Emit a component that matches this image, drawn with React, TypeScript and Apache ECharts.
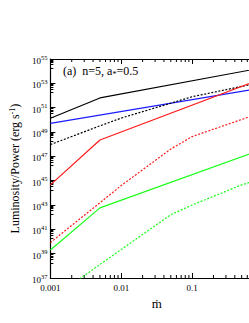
import React, { useEffect, useRef } from 'react';
import * as echarts from 'echarts';

// x positions (accretion rate) for each curve
const xBlackSolid = [0.001, 0.005, 1];
const yBlackSolid = [1.35e50, 6.3e51, 1.95e54];

const xBlackDotted = [0.001, 0.005, 0.01, 0.1, 0.5, 1];
const yBlackDotted = [9.3e47, 3.2e49, 1.4e50, 7.9e51, 5.6e52, 1.26e53];

const xBlue = [0.001, 1];
const yBlue = [5.2e49, 4.3e52];

const xRedSolid = [0.001, 0.005, 1];
const yRedSolid = [4.5e44, 2.2e48, 2.6e53];

const xRedDotted = [0.001, 0.01, 0.05, 0.1, 0.5, 1];
const yRedDotted = [8.1e39, 4.0e44, 4.0e47, 4.2e48, 1.07e50, 4.4e50];

const xGreenSolid = [0.001, 0.005, 1];
const yGreenSolid = [2.0e39, 5.8e42, 3.9e47];

const xGreenDotted = [0.001, 0.005, 0.01, 0.05, 0.1, 0.5, 1];
const yGreenDotted = [1.6e35, 1.3e38, 2.2e39, 1.6e42, 1e43, 4.5e44, 1.6e45];

const xMinorMultipliers = [2, 3, 4, 5, 6, 7, 8, 9];
const xDecades = [0.001, 0.01, 0.1];

const FONT = 'Liberation Serif';

function pairs(xs: number[], ys: number[]) {
  return xs.map((x, i) => [x, ys[i]]);
}

export default function App() {
  const ref = useRef<HTMLDivElement>(null);
  useEffect(() => {
    const chart = echarts.init(ref.current!, null, { renderer: 'svg' });
    const mkLine = (name: string, xs: number[], ys: number[], color: string, dotted: boolean) => ({
      name,
      type: 'line',
      data: pairs(xs, ys),
      symbol: 'none',
      clip: true,
      lineStyle: { color, width: 1.2, type: dotted ? [2, 1.6] : 'solid' },
      xAxisIndex: 0,
      yAxisIndex: 0,
    });
    const tickStyle = { color: '#000', width: 1 };
    const option: any = {
      animation: false,
      backgroundColor: '#fff',
      grid: { left: 44, top: 59, width: 219, height: 219, containLabel: false },
      xAxis: [
        {
          type: 'log',
          logBase: 10,
          min: 0.001,
          max: 1,
          position: 'bottom',
          name: 'ṁ',
          nameLocation: 'middle',
          nameGap: 13,
          nameTextStyle: { fontFamily: FONT, fontSize: 13, color: '#000' },
          axisLine: { show: true, lineStyle: { color: '#000', width: 1.2 } },
          axisTick: { show: true, inside: true, length: 5, lineStyle: tickStyle },
          axisLabel: {
            show: true,
            margin: 5,
            fontFamily: FONT,
            fontSize: 9,
            color: '#000',
            formatter: (v: number) => (v >= 0.999 ? '' : String(parseFloat(v.toPrecision(3)))),
          },
          splitLine: { show: false },
        },
        {
          type: 'log',
          logBase: 10,
          min: 0.001,
          max: 1,
          position: 'top',
          axisLine: { show: true, lineStyle: { color: '#000', width: 1.2 } },
          axisTick: { show: true, inside: true, length: 5, lineStyle: tickStyle },
          axisLabel: { show: false },
          splitLine: { show: false },
        },
      ],
      yAxis: [
        {
          type: 'log',
          logBase: 10,
          min: 1e37,
          max: 1e55,
          interval: 2,
          position: 'left',
          name: 'Luminosity/Power (erg s{sup|-1})',
          nameLocation: 'middle',
          nameRotate: 90,
          nameGap: 27,
          nameTextStyle: {
            fontFamily: FONT,
            fontSize: 12,
            color: '#000',
            rich: {
              sup: { fontFamily: FONT, fontSize: 8, color: '#000', padding: [0, 0, 6, 0] },
            },
          },
          axisLine: { show: true, lineStyle: { color: '#000', width: 1.2 } },
          axisTick: { show: true, inside: true, length: 5, lineStyle: tickStyle },
          minorTick: { show: true, splitNumber: 6, length: 3, lineStyle: tickStyle },
          axisLabel: {
            show: true,
            margin: 3,
            formatter: (v: number) => {
              const e = Math.round(Math.log10(v));
              return `{b|10}{s|${e}}`;
            },
            rich: {
              b: { fontFamily: FONT, fontSize: 9, color: '#000', padding: [4, 0, 0, 0] },
              s: { fontFamily: FONT, fontSize: 6.5, color: '#000', padding: [0, 0, 4, 0] },
            },
          },
          splitLine: { show: false },
          minorSplitLine: { show: false },
        },
        {
          type: 'log',
          logBase: 10,
          min: 1e37,
          max: 1e55,
          interval: 2,
          position: 'right',
          axisLine: { show: true, lineStyle: { color: '#000', width: 1.2 } },
          axisTick: { show: true, inside: true, length: 5, lineStyle: tickStyle },
          minorTick: { show: true, splitNumber: 6, length: 3, lineStyle: tickStyle },
          axisLabel: { show: false },
          splitLine: { show: false },
        },
      ],
      series: [
        mkLine('blackSolid', xBlackSolid, yBlackSolid, '#000000', false),
        mkLine('blue', xBlue, yBlue, '#1a1aff', false),
        mkLine('blackDotted', xBlackDotted, yBlackDotted, '#000000', true),
        mkLine('redSolid', xRedSolid, yRedSolid, '#ff1a1a', false),
        mkLine('redDotted', xRedDotted, yRedDotted, '#ff1a1a', true),
        mkLine('greenSolid', xGreenSolid, yGreenSolid, '#1aff1a', false),
        mkLine('greenDotted', xGreenDotted, yGreenDotted, '#1aff1a', true),
      ],
    };
    chart.setOption(option);

    // minor log ticks on x axes (2..9 per decade)
    const yBottom = chart.convertToPixel({ yAxisIndex: 0 }, 1e37) as number;
    const yTop = chart.convertToPixel({ yAxisIndex: 0 }, 1e55) as number;
    const graphics: any[] = [];
    xDecades.forEach((d) => {
      xMinorMultipliers.forEach((m) => {
        const px = chart.convertToPixel({ xAxisIndex: 0 }, d * m) as number;
        graphics.push({
          type: 'line',
          shape: { x1: px, y1: yBottom, x2: px, y2: yBottom - 3 },
          style: { stroke: '#000', lineWidth: 1 },
          silent: true,
        });
        graphics.push({
          type: 'line',
          shape: { x1: px, y1: yTop, x2: px, y2: yTop + 3 },
          style: { stroke: '#000', lineWidth: 1 },
          silent: true,
        });
      });
    });
    graphics.push({
      type: 'text',
      x: 63,
      y: 71,
      style: {
        text: '(a)  n=5, a{sub|*}=0.5',
        fontFamily: FONT,
        fontSize: 12,
        fontWeight: 'normal',
        fill: '#000',
        verticalAlign: 'middle',
        rich: {
          sub: { fontFamily: FONT, fontSize: 8, fill: '#000', padding: [6, 0, 0, 0] },
        },
      },
    });
    chart.setOption({ graphic: graphics });

    return () => chart.dispose();
  }, []);
  return (
    <div
      style={{
        position: 'fixed',
        left: 0,
        top: 0,
        width: 249,
        height: 323,
        overflow: 'hidden',
        background: '#fff',
      }}
    >
      <div ref={ref} style={{ width: 290, height: 323 }} />
    </div>
  );
}
